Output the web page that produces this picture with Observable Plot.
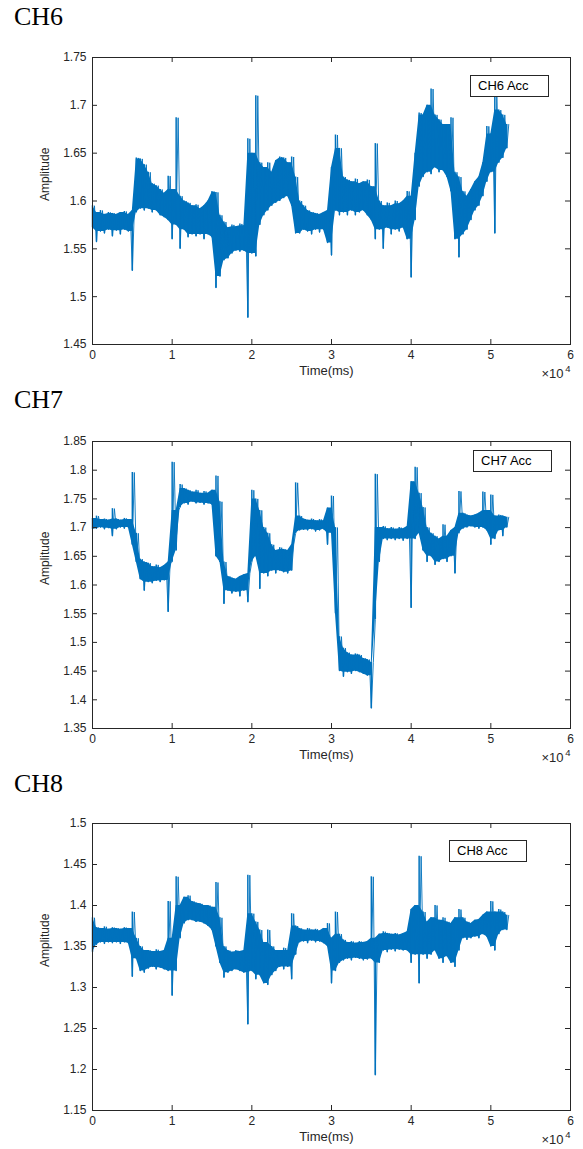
<!DOCTYPE html>
<html>
<head>
<meta charset="utf-8">
<script src="https://cdn.jsdelivr.net/npm/d3@7"></script>
<script src="https://cdn.jsdelivr.net/npm/@observablehq/plot@0.6"></script>
<style>
  html, body { margin: 0; padding: 0; background: #fff; }
  #root { position: relative; width: 583px; height: 1149px; overflow: hidden; }
  .title { position: absolute; left: 14px; font-family: "Liberation Serif", "Times New Roman", serif; font-size: 26px; line-height: 26px; color: #000; }
  .panel { position: absolute; left: 0; }
  .legend { position: absolute; box-sizing: border-box; height: 22px; border: 1px solid #262626; background: #fff;
            font-family: "Liberation Sans", Arial, sans-serif; font-size: 13px; line-height: 20px; padding-left: 7px; color: #000; }
</style>
</head>
<body>
<div id="root"></div>
<script>
// ---- data (sampled every 500 ms; low / high envelope of the noisy signal) ----
const sampleTimes = d3.range(0, 52001, 500);
const xTickValues = [0, 10000, 20000, 30000, 40000, 50000, 60000];

const ch6Lo = [1.572,1.557,1.568,1.566,1.570,1.563,1.569,1.565,1.570,1.568,
  1.527,1.588,1.592,1.590,1.592,1.588,1.590,1.585,1.583,1.580,
  1.560,1.575,1.550,1.570,1.562,1.565,1.563,1.565,1.560,1.565,
  1.562,1.509,1.521,1.538,1.540,1.545,1.548,1.547,1.548,1.478,
  1.545,1.542,1.575,1.585,1.590,1.595,1.598,1.600,1.603,1.605,
  1.595,1.566,1.566,1.570,1.568,1.565,1.570,1.567,1.570,1.556,
  1.543,1.590,1.585,1.588,1.585,1.590,1.585,1.588,1.590,1.585,
  1.580,1.560,1.570,1.550,1.572,1.565,1.570,1.568,1.572,1.560,
  1.520,1.580,1.615,1.625,1.630,1.628,1.635,1.630,1.632,1.625,
  1.610,1.560,1.541,1.565,1.570,1.580,1.590,1.595,1.605,1.620,
  1.630,1.566,1.640,1.645,1.655];
const ch6Hi = [1.595,1.588,1.590,1.586,1.588,1.587,1.586,1.588,1.589,1.586,
  1.590,1.645,1.644,1.638,1.630,1.618,1.616,1.612,1.608,1.626,
  1.612,1.687,1.605,1.600,1.598,1.595,1.596,1.592,1.595,1.600,
  1.610,1.609,1.585,1.578,1.572,1.575,1.573,1.576,1.574,1.665,
  1.650,1.710,1.640,1.635,1.640,1.630,1.642,1.646,1.645,1.640,
  1.646,1.625,1.600,1.595,1.590,1.588,1.587,1.586,1.588,1.590,
  1.635,1.669,1.655,1.625,1.622,1.620,1.623,1.618,1.620,1.622,
  1.615,1.660,1.600,1.595,1.598,1.595,1.600,1.597,1.600,1.610,
  1.605,1.650,1.692,1.690,1.700,1.717,1.690,1.685,1.680,1.680,
  1.687,1.630,1.625,1.610,1.605,1.612,1.620,1.625,1.640,1.678,
  1.670,1.710,1.695,1.690,1.680];

const ch7Lo = [1.697,1.698,1.700,1.697,1.699,1.685,1.697,1.700,1.698,1.700,
  1.670,1.640,1.610,1.590,1.605,1.603,1.607,1.605,1.608,1.553,
  1.640,1.660,1.735,1.742,1.740,1.745,1.742,1.743,1.740,1.742,
  1.740,1.650,1.640,1.567,1.590,1.585,1.588,1.580,1.590,1.570,
  1.640,1.650,1.593,1.620,1.615,1.625,1.620,1.625,1.622,1.620,
  1.625,1.690,1.695,1.696,1.695,1.697,1.693,1.695,1.697,1.670,
  1.690,1.550,1.450,1.440,1.448,1.445,1.450,1.448,1.445,1.442,
  1.385,1.540,1.640,1.680,1.678,1.680,1.678,1.680,1.677,1.680,
  1.560,1.680,1.690,1.660,1.640,1.650,1.635,1.640,1.645,1.640,
  1.650,1.620,1.690,1.698,1.700,1.702,1.700,1.698,1.700,1.695,
  1.670,1.680,1.695,1.685,1.700];
const ch7Hi = [1.716,1.720,1.714,1.715,1.713,1.733,1.715,1.713,1.716,1.714,
  1.796,1.690,1.645,1.640,1.638,1.632,1.635,1.630,1.634,1.640,
  1.814,1.730,1.775,1.768,1.765,1.762,1.765,1.760,1.763,1.760,
  1.765,1.790,1.745,1.640,1.615,1.612,1.610,1.615,1.618,1.620,
  1.765,1.750,1.730,1.700,1.690,1.670,1.660,1.665,1.662,1.660,
  1.670,1.778,1.720,1.715,1.713,1.715,1.712,1.714,1.712,1.734,
  1.755,1.700,1.510,1.490,1.482,1.478,1.480,1.478,1.472,1.470,
  1.465,1.793,1.700,1.702,1.698,1.700,1.697,1.700,1.698,1.702,
  1.780,1.805,1.760,1.735,1.700,1.690,1.685,1.680,1.705,1.685,
  1.695,1.700,1.763,1.725,1.722,1.720,1.722,1.725,1.762,1.730,
  1.757,1.720,1.722,1.720,1.718];

const ch8Lo = [1.343,1.352,1.355,1.353,1.355,1.354,1.355,1.353,1.355,1.354,
  1.313,1.335,1.320,1.318,1.323,1.325,1.322,1.324,1.322,1.320,
  1.290,1.320,1.360,1.378,1.382,1.382,1.380,1.380,1.378,1.375,
  1.370,1.350,1.330,1.312,1.318,1.320,1.322,1.320,1.318,1.255,
  1.320,1.310,1.315,1.305,1.303,1.315,1.320,1.325,1.322,1.325,
  1.310,1.340,1.355,1.356,1.354,1.357,1.355,1.356,1.354,1.350,
  1.305,1.320,1.330,1.333,1.335,1.333,1.336,1.335,1.333,1.334,
  1.335,1.193,1.330,1.345,1.343,1.346,1.344,1.346,1.345,1.345,
  1.330,1.340,1.305,1.340,1.335,1.340,1.345,1.335,1.330,1.338,
  1.330,1.325,1.345,1.360,1.358,1.360,1.362,1.360,1.365,1.362,
  1.350,1.345,1.365,1.370,1.370];
const ch8Hi = [1.385,1.373,1.372,1.374,1.371,1.373,1.372,1.371,1.373,1.372,
  1.392,1.360,1.350,1.345,1.345,1.344,1.346,1.344,1.345,1.405,
  1.360,1.435,1.400,1.410,1.412,1.405,1.403,1.402,1.400,1.400,
  1.398,1.428,1.385,1.350,1.345,1.343,1.345,1.344,1.345,1.437,
  1.390,1.380,1.370,1.355,1.370,1.350,1.345,1.345,1.348,1.345,
  1.390,1.375,1.372,1.370,1.372,1.370,1.371,1.369,1.372,1.378,
  1.360,1.392,1.365,1.358,1.355,1.356,1.354,1.356,1.355,1.356,
  1.435,1.360,1.365,1.368,1.366,1.365,1.366,1.364,1.366,1.368,
  1.395,1.400,1.460,1.392,1.380,1.385,1.400,1.382,1.385,1.380,
  1.378,1.385,1.395,1.385,1.380,1.378,1.382,1.383,1.388,1.392,
  1.405,1.392,1.395,1.392,1.388];

const ch6Ticks = [1.45, 1.5, 1.55, 1.6, 1.65, 1.7, 1.75];
const ch7Ticks = [1.35, 1.4, 1.45, 1.5, 1.55, 1.6, 1.65, 1.7, 1.75, 1.8, 1.85];
const ch8Ticks = [1.15, 1.2, 1.25, 1.3, 1.35, 1.4, 1.45, 1.5];

const titles = ["CH6", "CH7", "CH8"];
const legends = ["CH6 Acc", "CH7 Acc", "CH8 Acc"];

// ---- layout ----
const W = 583, H = 332, mL = 92, mR = 13, mT = 10, mB = 35;
const plotW = W - mL - mR, plotH = H - mT - mB;
const blue = "#0072BD", axisC = "#262626";
const panels = [
  {title: titles[0], legend: legends[0], lo: ch6Lo, hi: ch6Hi, ticks: ch6Ticks, svgTop: 47, titleTop: 4, leg: [470, 75, 79]},
  {title: titles[1], legend: legends[1], lo: ch7Lo, hi: ch7Hi, ticks: ch7Ticks, svgTop: 431, titleTop: 387, leg: [473, 450, 79]},
  {title: titles[2], legend: legends[2], lo: ch8Lo, hi: ch8Hi, ticks: ch8Ticks, svgTop: 813, titleTop: 771, leg: [449, 840, 78]}
];

const root = document.getElementById("root");
for (const p of panels) {
  const n = sampleTimes.length;
  const band = sampleTimes.map((t, i) => ({t, lo: p.lo[i], hi: p.hi[i]}));
  // filled core of the band: isolated one-sample spikes are left to the thin rules / line
  const core = band.map((d, i) => {
    const a = band[Math.max(0, i - 1)], b = band[Math.min(n - 1, i + 1)];
    return {t: d.t, lo: Math.max(d.lo, Math.min(a.lo, b.lo)), hi: Math.min(d.hi, Math.max(a.hi, b.hi))};
  });
  const zig = [];
  band.forEach(d => { zig.push({t: d.t, v: d.lo}); zig.push({t: d.t + 250, v: d.hi}); });
  const yDomain = [p.ticks[0], p.ticks[p.ticks.length - 1]];

  const chart = Plot.plot({
    width: W, height: H,
    marginLeft: mL, marginRight: mR, marginTop: mT, marginBottom: mB,
    x: {domain: [0, 60000]},
    y: {domain: yDomain},
    style: {fontFamily: "'Liberation Sans', Arial, sans-serif", fontSize: "12px", color: axisC, background: "white", overflow: "visible"},
    marks: [
      Plot.areaY(core, {x: "t", y1: "lo", y2: "hi", fill: blue}),
      Plot.ruleX(band, {x: "t", y1: "lo", y2: "hi", stroke: blue, strokeWidth: 1.5}),
      Plot.line(zig, {x: "t", y: "v", stroke: blue, strokeWidth: 0.9}),
      Plot.frame({stroke: axisC, strokeWidth: 1}),
      Plot.tickX(xTickValues, {x: d => d, stroke: axisC, insetTop: plotH - 5}),
      Plot.tickX(xTickValues, {x: d => d, stroke: axisC, insetBottom: plotH - 5}),
      Plot.tickY(p.ticks, {y: d => d, stroke: axisC, insetRight: plotW - 5}),
      Plot.tickY(p.ticks, {y: d => d, stroke: axisC, insetLeft: plotW - 5}),
      Plot.axisX(xTickValues, {tickSize: 0, tickPadding: 6, tickFormat: d => String(d / 10000), label: null, fontSize: 12}),
      Plot.axisY(p.ticks, {tickSize: 0, tickPadding: 6, tickFormat: d => String(d), label: null, fontSize: 12}),
      Plot.text(["Amplitude"], {frameAnchor: "left", dx: -47, rotate: -90, text: d => d, fontSize: 12, fill: axisC}),
      Plot.text(["Time(ms)"], {frameAnchor: "bottom", dx: -5, dy: 30, text: d => d, fontSize: 13, fill: axisC}),
      Plot.text(["\u00d710"], {frameAnchor: "bottom-right", dx: -7, dy: 33, textAnchor: "end", text: d => d, fontSize: 13, fill: axisC}),
      Plot.text(["4"], {frameAnchor: "bottom-right", dx: 0, dy: 27, textAnchor: "end", text: d => d, fontSize: 9.5, fill: axisC})
    ]
  });
  chart.classList.add("panel");
  chart.style.top = p.svgTop + "px";
  root.appendChild(chart);

  const t = document.createElement("div");
  t.className = "title";
  t.style.top = p.titleTop + "px";
  t.textContent = p.title;
  root.appendChild(t);

  const lg = document.createElement("div");
  lg.className = "legend";
  lg.style.left = p.leg[0] + "px";
  lg.style.top = p.leg[1] + "px";
  lg.style.width = p.leg[2] + "px";
  lg.textContent = p.legend;
  root.appendChild(lg);
}
</script>
</body>
</html>
